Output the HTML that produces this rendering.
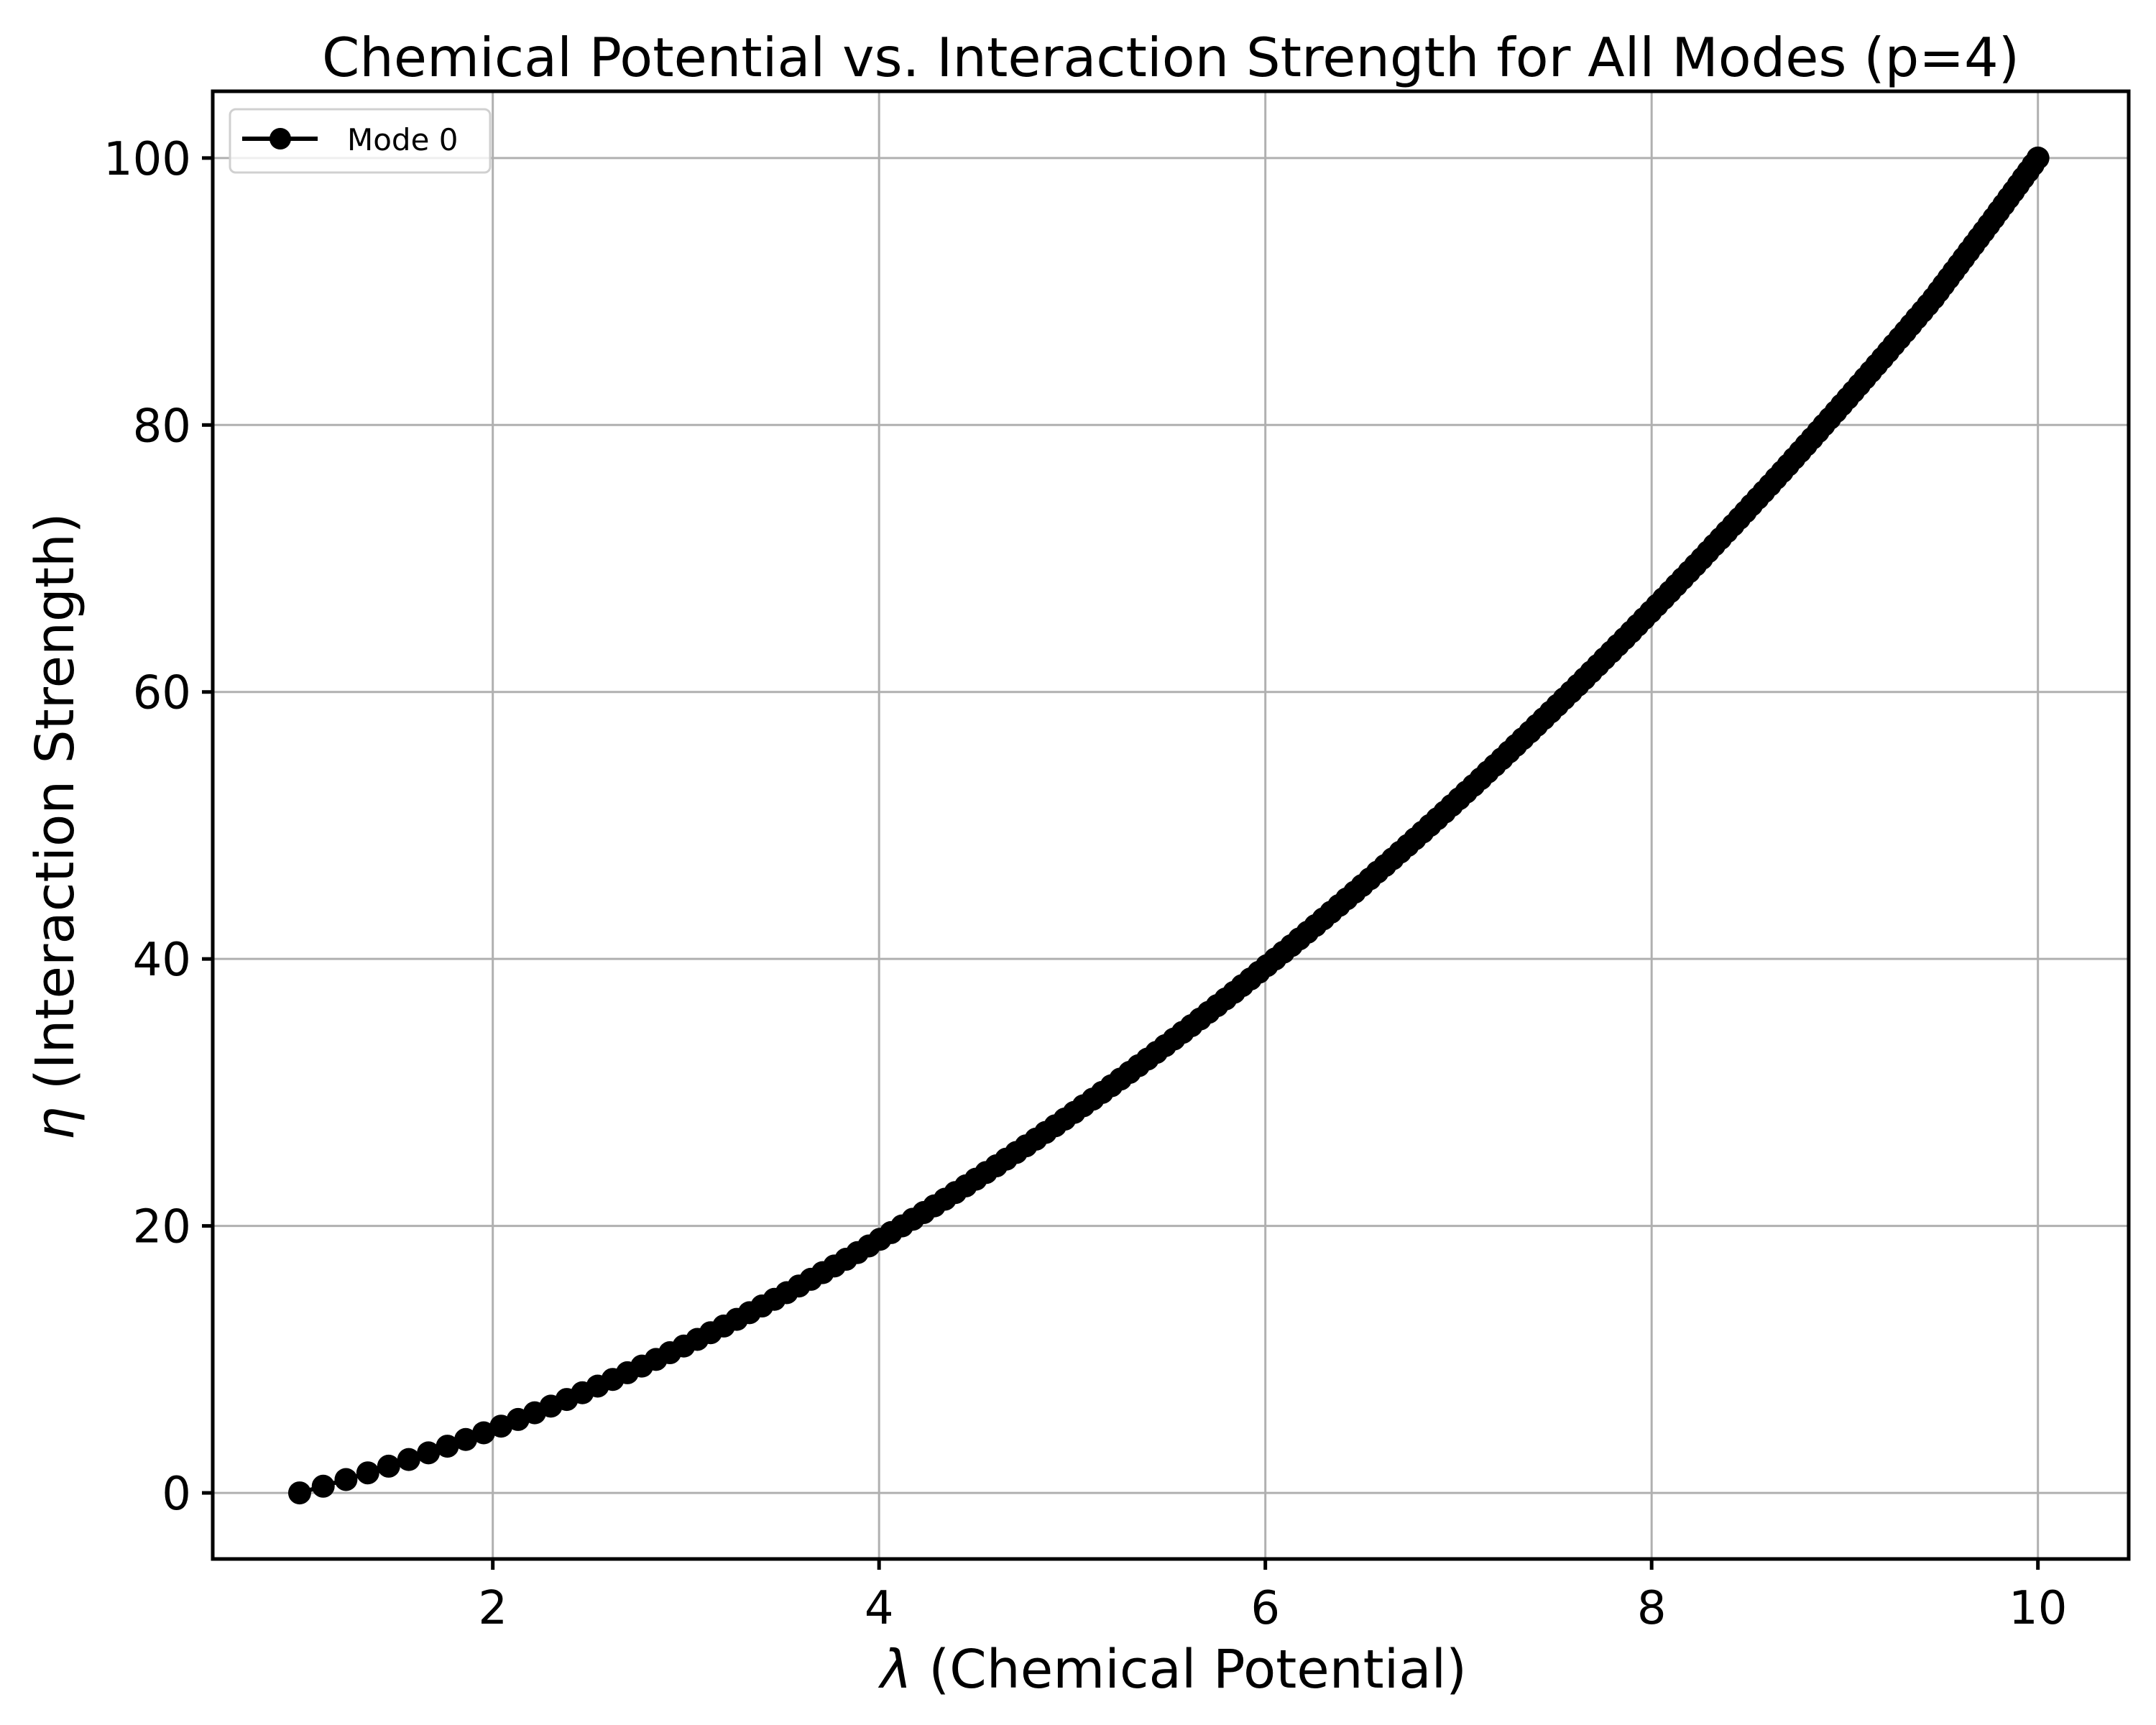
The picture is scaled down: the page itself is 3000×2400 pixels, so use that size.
<!DOCTYPE html>
<html><head><meta charset="utf-8"><style>
html,body{margin:0;padding:0;background:#fff;}
svg{display:block;font-family:"DejaVu Sans","Liberation Sans",sans-serif;}
</style></head><body>
<svg id="chart" width="3000" height="2400" viewBox="0 0 3000 2400">
<rect width="3000" height="2400" fill="#fff"/>
<text x="1629" y="106" font-size="75" text-anchor="middle">Chemical Potential vs. Interaction Strength for All Modes (p=4)</text>
<g id="grid"></g>
<g id="series"></g>
<rect x="296" y="127" width="2666" height="2042" fill="none" stroke="#000" stroke-width="5"/>
<g id="ticks"></g>
<text x="1633" y="2348" font-size="74" text-anchor="middle"><tspan font-style="italic">λ</tspan> (Chemical Potential)</text>
<text transform="translate(102,1150) rotate(-90)" font-size="74" text-anchor="middle"><tspan font-style="italic">η</tspan> (Interaction Strength)</text>
<g>
<rect x="320" y="152" width="362" height="88" rx="8" fill="#fff" fill-opacity="0.8" stroke="#d0d0d0" stroke-width="3"/>
<line x1="337" y1="193" x2="442" y2="193" stroke="#000" stroke-width="6"/>
<circle cx="390" cy="193" r="15" fill="#000"/>
<text x="483" y="209" font-size="42">Mode 0</text>
</g>
</svg>
<script>
const lambdaVals = [1.000,1.122,1.240,1.353,1.461,1.565,1.667,1.765,1.860,1.953,2.043,2.131,2.217,2.301,2.383,2.464,2.543,2.621,2.697,2.772,2.845,2.917,2.989,3.059,3.128,3.196,3.263,3.329,3.394,3.458,3.522,3.585,3.647,3.708,3.769,3.829,3.888,3.947,4.005,4.062,4.119,4.175,4.231,4.286,4.341,4.395,4.449,4.501,4.554,4.607,4.658,4.710,4.761,4.812,4.862,4.912,4.961,5.010,5.058,5.107,5.155,5.203,5.250,5.297,5.343,5.390,5.436,5.481,5.527,5.572,5.617,5.662,5.706,5.750,5.794,5.838,5.880,5.923,5.966,6.008,6.051,6.093,6.135,6.176,6.218,6.259,6.300,6.340,6.381,6.421,6.462,6.501,6.541,6.580,6.620,6.659,6.698,6.737,6.775,6.814,6.852,6.890,6.928,6.965,7.003,7.040,7.078,7.115,7.151,7.188,7.225,7.261,7.297,7.333,7.370,7.405,7.441,7.477,7.512,7.547,7.583,7.618,7.653,7.687,7.722,7.756,7.791,7.825,7.860,7.894,7.927,7.961,7.995,8.028,8.062,8.095,8.128,8.161,8.194,8.227,8.260,8.292,8.324,8.357,8.389,8.422,8.454,8.486,8.517,8.549,8.581,8.613,8.644,8.676,8.707,8.738,8.769,8.800,8.831,8.862,8.892,8.923,8.954,8.984,9.015,9.045,9.075,9.105,9.135,9.165,9.195,9.225,9.254,9.284,9.314,9.343,9.372,9.402,9.431,9.460,9.486,9.512,9.538,9.564,9.590,9.616,9.642,9.668,9.694,9.720,9.746,9.772,9.797,9.823,9.848,9.874,9.899,9.924,9.950,9.975,10.000];
const etaVals = [0,0.5,1,1.5,2,2.5,3,3.5,4,4.5,5,5.5,6,6.5,7,7.5,8,8.5,9,9.5,10,10.5,11,11.5,12,12.5,13,13.5,14,14.5,15,15.5,16,16.5,17,17.5,18,18.5,19,19.5,20,20.5,21,21.5,22,22.5,23,23.5,24,24.5,25,25.5,26,26.5,27,27.5,28,28.5,29,29.5,30,30.5,31,31.5,32,32.5,33,33.5,34,34.5,35,35.5,36,36.5,37,37.5,38,38.5,39,39.5,40,40.5,41,41.5,42,42.5,43,43.5,44,44.5,45,45.5,46,46.5,47,47.5,48,48.5,49,49.5,50,50.5,51,51.5,52,52.5,53,53.5,54,54.5,55,55.5,56,56.5,57,57.5,58,58.5,59,59.5,60,60.5,61,61.5,62,62.5,63,63.5,64,64.5,65,65.5,66,66.5,67,67.5,68,68.5,69,69.5,70,70.5,71,71.5,72,72.5,73,73.5,74,74.5,75,75.5,76,76.5,77,77.5,78,78.5,79,79.5,80,80.5,81,81.5,82,82.5,83,83.5,84,84.5,85,85.5,86,86.5,87,87.5,88,88.5,89,89.5,90,90.5,91,91.5,92,92.5,93,93.5,94,94.5,95,95.5,96,96.5,97,97.5,98,98.5,99,99.5,100];
const xTicks = [2,4,6,8,10];
const yTicks = [0,20,40,60,80,100];
const xTickLabels = ["2","4","6","8","10"];
const yTickLabels = ["0","20","40","60","80","100"];

const NS = "http://www.w3.org/2000/svg";
const L = 296, R = 2962, T = 127, B = 2169;
const xMin = 0.55, xMax = 10.47, yMin = -4.95, yMax = 105;
function xs(v){ return L + (v - xMin) / (xMax - xMin) * (R - L); }
function ys(v){ return B - (v - yMin) / (yMax - yMin) * (B - T); }
function mk(tag, attrs, parent){ const e = document.createElementNS(NS, tag); for (const k in attrs) e.setAttribute(k, attrs[k]); parent.appendChild(e); return e; }

const grid = document.getElementById('grid');
const ticks = document.getElementById('ticks');
xTicks.forEach((v, i) => {
  const g = mk('line', {x1: xs(v), x2: xs(v), y1: T, y2: B, stroke: '#b0b0b0', 'stroke-width': 3}, grid);
  
  
  const t = mk('line', {x1: xs(v), x2: xs(v), y1: B, y2: B + 15, stroke: '#000', 'stroke-width': 5}, ticks);
  
  
  const lb = mk('text', {x: xs(v), y: B + 90, 'font-size': 64, 'text-anchor': 'middle'}, ticks);
  lb.textContent = xTickLabels[i];
  
  
});
yTicks.forEach((v, i) => {
  const g = mk('line', {x1: L, x2: R, y1: ys(v), y2: ys(v), stroke: '#b0b0b0', 'stroke-width': 3}, grid);
  
  
  const t = mk('line', {x1: L - 15, x2: L, y1: ys(v), y2: ys(v), stroke: '#000', 'stroke-width': 5}, ticks);
  
  
  const lb = mk('text', {x: L - 30, y: ys(v) + 23, 'font-size': 64, 'text-anchor': 'end'}, ticks);
  lb.textContent = yTickLabels[i];
  
  
});

const series = document.getElementById('series');
const pts = lambdaVals.map((v, i) => xs(v).toFixed(1) + ',' + ys(etaVals[i]).toFixed(1)).join(' ');
const line = mk('polyline', {points: pts, fill: 'none', stroke: '#000', 'stroke-width': 6}, series);


lambdaVals.forEach((v, i) => {
  const c = mk('circle', {cx: xs(v), cy: ys(etaVals[i]), r: 16, fill: '#000'}, series);
  
  
});
</script>
</body></html>
